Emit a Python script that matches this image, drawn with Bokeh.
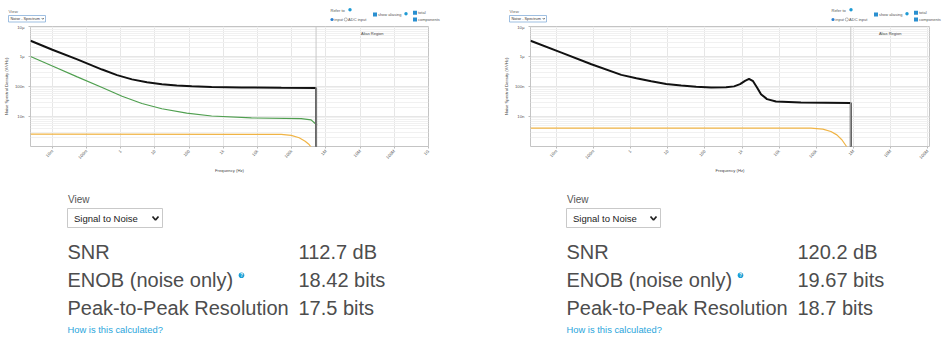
import math
from bokeh.plotting import figure
from bokeh.layouts import column, row
from bokeh.models import Range1d, FixedTicker, CustomJSTickFormatter, Span, Label
from bokeh.embed import file_html
from bokeh.resources import INLINE
from bokeh.core.properties import value

FONT = "Liberation Sans"

# ---------------- data ----------------
x_tick_values_L = [1e-2, 1e-1, 1, 10, 100, 1e3, 1e4, 1e5, 1e6, 1e7, 1e8, 1e9]
x_tick_labels_L = ["10m", "100m", "1", "10", "100", "1k", "10k", "100k", "1M", "10M", "100M", "1G"]
x_tick_values_R = [1e-2, 1e-1, 1, 10, 100, 1e3, 1e4, 1e5, 1e6, 1e7, 1e8]
x_tick_labels_R = ["10m", "100m", "1", "10", "100", "1k", "10k", "100k", "1M", "10M", "100M"]
y_tick_values = [1e-8, 1e-7, 1e-6, 1e-5]
y_tick_labels = ["10n", "100n", "1\u00b5", "10\u00b5"]

# left spectrum (Hz, V/rtHz)
alias_freq_L = 5.15e5
freq_total_L = [0.0023, 0.01, 0.0534, 0.285, 0.78, 2.13, 5.82, 15.9, 43.4, 119, 454, 3390, 49400,
                515000, 515000]
nsd_total_L = [3.36e-6, 1.68e-6, 8.0e-7, 3.67e-7, 2.40e-7, 1.73e-7, 1.39e-7, 1.19e-7, 1.08e-7,
               1.01e-7, 9.6e-8, 9.3e-8, 9.0e-8, 8.95e-8, 8.0e-10]
freq_green_L = [0.0023, 0.01, 0.0534, 0.285, 1.09, 4.16, 15.9, 84.9, 454, 6620, 189000, 369000, 552000]
nsd_green_L = [1.0e-6, 4.83e-7, 2.1e-7, 9.3e-8, 4.75e-8, 2.72e-8, 1.81e-8, 1.30e-8, 1.04e-8, 8.95e-9,
               8.44e-9, 7.7e-9, 5.1e-9]
freq_orange_L = [0.0023, 49400, 96700, 165000, 247000, 323000, 395000]
nsd_orange_L = [2.57e-9, 2.53e-9, 2.35e-9, 1.95e-9, 1.50e-9, 1.16e-9, 8.6e-10]

# right spectrum
alias_freq_R = 8.5e5
freq_total_R = [0.0020, 0.0136, 0.0873, 0.558, 1.42, 3.58, 9.06, 22.9, 58, 147, 372, 609, 884, 1200,
                1540, 1980, 2530, 3240, 4700, 8200, 38600, 851000, 851000]
nsd_total_R = [3.36e-6, 1.35e-6, 5.52e-7, 2.44e-7, 1.88e-7, 1.50e-7, 1.22e-7, 1.08e-7, 9.86e-8,
               9.3e-8, 9.42e-8, 1.01e-7, 1.2e-7, 1.54e-7, 1.81e-7, 1.50e-7, 9.3e-8, 5.5e-8, 3.8e-8,
               3.16e-8, 2.94e-8, 2.83e-8, 8.0e-10]
freq_orange_R = [0.0020, 71600, 150000, 247000, 358000, 488000, 625000, 707000]
nsd_orange_R = [4.1e-9, 4.1e-9, 3.81e-9, 3.16e-9, 2.44e-9, 1.68e-9, 1.08e-9, 8.6e-10]

# summary panels
metric_labels = ["SNR", "ENOB (noise only)", "Peak-to-Peak Resolution"]
values_L = ["112.7 dB", "18.42 bits", "17.5 bits"]
values_R = ["120.2 dB", "19.67 bits", "18.7 bits"]

BLACK = "#111111"
GREEN = "#4f9f4f"
ORANGE = "#f0b445"
BLUE = "#1f9bd4"

fmt_code = """
const lt = Math.log10(tick);
let best = 0; let bd = 1e9;
for (let i = 0; i < vals.length; i++) {
  const d = Math.abs(Math.log10(vals[i]) - lt);
  if (d < bd) { bd = d; best = i; }
}
return labs[best];
"""


def make_plot(width, left, right, xr, xticks, xlabels, alias_f):
    p = figure(width=width, height=151, x_axis_type="log", y_axis_type="log",
               x_range=Range1d(*xr), y_range=Range1d(1e-9, 1e-5),
               output_backend="svg", toolbar_location=None,
               min_border_left=left, min_border_right=right,
               min_border_top=2, min_border_bottom=25)
    p.background_fill_color = "white"
    p.border_fill_color = "white"
    p.outline_line_color = "#c4c4c4"
    minor = [m * 10.0 ** e for e in range(-9, -5) for m in range(2, 10)]
    p.xaxis.ticker = FixedTicker(ticks=xticks, minor_ticks=[])
    p.yaxis.ticker = FixedTicker(ticks=y_tick_values, minor_ticks=minor)
    p.xaxis.formatter = CustomJSTickFormatter(args=dict(vals=xticks, labs=xlabels), code=fmt_code)
    p.yaxis.formatter = CustomJSTickFormatter(args=dict(vals=y_tick_values, labs=y_tick_labels), code=fmt_code)
    for ax in (p.xaxis[0], p.yaxis[0]):
        ax.axis_line_color = None
        ax.major_tick_line_color = "#bbbbbb"
        ax.major_tick_out = 2
        ax.major_tick_in = 0
        ax.minor_tick_line_color = None
        ax.major_label_text_font = FONT
        ax.major_label_text_font_size = "4.3px"
        ax.major_label_text_color = "#555555"
        ax.major_label_standoff = 2
        ax.axis_label_text_font = FONT
        ax.axis_label_text_font_size = "4.2px"
        ax.axis_label_text_font_style = "normal"
        ax.axis_label_text_color = "#444444"
        ax.axis_label_standoff = 3
    p.xaxis.major_label_orientation = math.pi / 4
    p.xaxis.axis_label = "Frequency (Hz)"
    p.yaxis.axis_label = "Noise Spectral Density (V/\u221aHz)"
    p.xgrid.grid_line_color = "#e6e6e6"
    p.ygrid.grid_line_color = "#e6e6e6"
    p.ygrid.minor_grid_line_color = "#f1f1f1"
    p.add_layout(Span(location=alias_f, dimension="height", line_color="#c8c8c8", line_width=1))
    center = math.sqrt(alias_f * xr[1])
    p.add_layout(Label(x=center, y=5.9e-6, text="Alias Region", text_font=FONT,
                       text_font_size="4px", text_color="#444444",
                       text_align="center", text_baseline="middle"))
    return p


pL = make_plot(500, 28, 72, (10 ** -2.64, 1e9), x_tick_values_L, x_tick_labels_L, alias_freq_L)
pL.line(freq_orange_L, nsd_orange_L, line_color=ORANGE, line_width=1.2)
pL.line(freq_green_L, nsd_green_L, line_color=GREEN, line_width=1.2)
pL.line(freq_total_L, nsd_total_L, line_color=BLACK, line_width=2)

pR = make_plot(450, 29, 21, (10 ** -2.70, 10 ** 8.05), x_tick_values_R, x_tick_labels_R, alias_freq_R)
pR.line(freq_orange_R, nsd_orange_R, line_color=ORANGE, line_width=1.2)
pR.line(freq_total_R, nsd_total_R, line_color=BLACK, line_width=2)


def blank(height, y0, y1):
    p = figure(width=950, height=height, x_range=Range1d(0, 950), y_range=Range1d(y1, y0),
               output_backend="svg", toolbar_location=None,
               x_axis_location=None, y_axis_location=None, min_border=0)
    p.outline_line_color = None
    p.grid.visible = False
    p.background_fill_color = "white"
    p.border_fill_color = "white"
    return p


def txt(p, x, y, s, size, color="#444444", align="left", baseline="middle", style="normal"):
    p.text(x=[x], y=[y], text=[s], text_font=value(FONT), text_font_size=size,
           text_color=color, text_align=align, text_baseline=baseline, text_font_style=style)


# ---- top control strip ----
ctrl = blank(24, 0, 24)
for dx in (0, 501):
    txt(ctrl, 8 + dx, 11, "View", "4.3px", "#666666")
    ctrl.quad(left=8 + dx, right=45 + dx, top=15, bottom=21.5, fill_color="white",
              line_color="#86afd9", line_width=0.8)
    txt(ctrl, 10 + dx, 18.3, "Noise - Spectrum", "3.8px", "#333333")
    ctrl.line([41.3 + dx, 42.3 + dx, 43.3 + dx], [17.6, 18.8, 17.6], line_color="#333333", line_width=0.7)
    txt(ctrl, 330 + dx, 10, "Refer to", "4px", "#555555")
    ctrl.scatter([349.5 + dx], [9.3], size=3.4, fill_color=BLUE, line_color=None)
    ctrl.scatter([331.5 + dx], [19], size=3.2, fill_color="#2a7fd0", line_color=None)
    txt(ctrl, 333.8 + dx, 19, "input", "4px", "#555555")
    ctrl.scatter([345.3 + dx], [19], size=3.2, fill_color="white", line_color="#888888", line_width=0.6)
    txt(ctrl, 347.6 + dx, 19, "ADC input", "4px", "#555555")
    ctrl.scatter([374.5 + dx], [14], marker="square", size=4, fill_color="#2a8fd0", line_color=None)
    txt(ctrl, 377.5 + dx, 14, "show aliasing", "3.9px", "#555555")
    ctrl.scatter([405.5 + dx], [13.2], size=3.4, fill_color=BLUE, line_color=None)
    ctrl.scatter([414.5 + dx], [12.3], marker="square", size=4, fill_color="#2a8fd0", line_color=None)
    txt(ctrl, 417.5 + dx, 12.3, "total", "4px", "#555555")
    ctrl.scatter([414.5 + dx], [19], marker="square", size=4, fill_color="#2a8fd0", line_color=None)
    txt(ctrl, 417.5 + dx, 19, "components", "4px", "#555555")

# ---- summary panels ----
summ = blank(171, 175, 346)
centers = [251, 279, 307.5]
for lx, vx, vals, sel_r, ix in ((67, 298, values_L, 162, 241), (566, 797, values_R, 660, 740)):
    txt(summ, lx + 0.5, 198.5, "View", "10px", "#555555")
    summ.quad(left=lx, right=sel_r, top=208, bottom=227, fill_color="white",
              line_color="#c9c9c9", line_width=1)
    txt(summ, lx + 6.5, 218, "Signal to Noise", "9.5px", "#222222")
    summ.line([sel_r - 10, sel_r - 7, sel_r - 4], [216, 219.5, 216], line_color="#222222", line_width=1.8)
    for lab, val, cy in zip(metric_labels, vals, centers):
        txt(summ, lx, cy, lab, "20px", "#4d4d4d")
        txt(summ, vx, cy, val, "20px", "#4d4d4d")
    summ.scatter([ix], [274.8], size=5.6, fill_color="#1a9fd6", line_color=None)
    txt(summ, ix, 275, "?", "4.5px", "white", align="center", style="bold")
    txt(summ, lx, 329, "How is this calculated?", "9.4px", "#2aa6dc")

layout = column(ctrl, row(pL, pR), summ)
open("out.html", "w").write(file_html(layout, INLINE))
